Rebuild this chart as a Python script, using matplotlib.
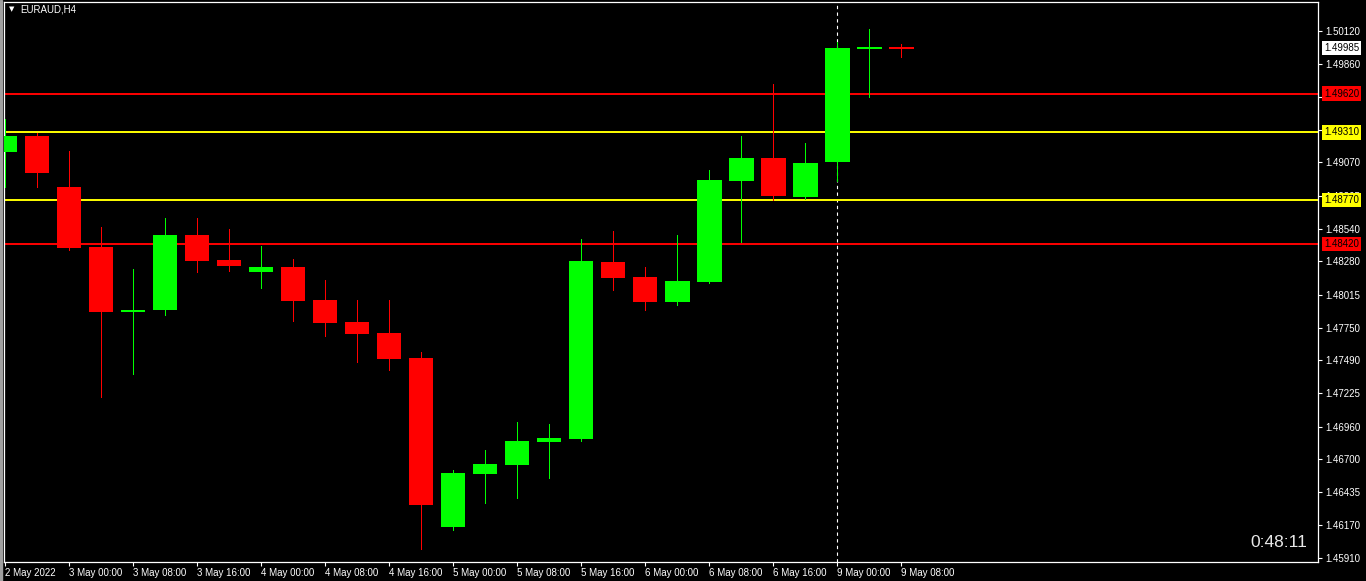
import matplotlib
matplotlib.use("Agg")
import matplotlib.pyplot as plt
from matplotlib.patches import Rectangle

plt.rcParams['font.family'] = ['Liberation Sans', 'DejaVu Sans']

# EURAUD H4 candles, 2 May 16:00 .. 9 May 08:00
opens = [1.49156, 1.49281, 1.48874, 1.48394, 1.47883, 1.47891, 1.48490, 1.48291,
         1.48195, 1.48235, 1.47971, 1.47795, 1.47707, 1.47508, 1.46160, 1.46581,
         1.46653, 1.46837, 1.46861, 1.48275, 1.48155, 1.47957, 1.48118, 1.48924,
         1.49105, 1.48796, 1.49076, 1.49984, 1.49990]
highs = [1.49417, 1.49303, 1.49161, 1.48554, 1.48219, 1.48626, 1.48626, 1.48538,
         1.48402, 1.48299, 1.48131, 1.47971, 1.47971, 1.47556, 1.46613, 1.46773,
         1.46996, 1.46980, 1.48458, 1.48522, 1.48235, 1.48490, 1.49010, 1.49281,
         1.49697, 1.49225, 1.50032, 1.50136, 1.50016]
lows = [1.48876, 1.48876, 1.48370, 1.47198, 1.47380, 1.47851, 1.48195, 1.48203,
        1.48067, 1.47803, 1.47683, 1.47476, 1.47412, 1.45982, 1.46134, 1.46349,
        1.46389, 1.46549, 1.46845, 1.48053, 1.47893, 1.47933, 1.48110, 1.48437,
        1.48770, 1.48780, 1.48922, 1.49595, 1.49915]
closes = [1.49281, 1.48988, 1.48389, 1.47878, 1.47891, 1.48490, 1.48283, 1.48243,
          1.48235, 1.47963, 1.47787, 1.47699, 1.47500, 1.46333, 1.46589, 1.46661,
          1.46845, 1.46869, 1.48283, 1.48149, 1.47957, 1.48123, 1.48930, 1.49105,
          1.48804, 1.49065, 1.49984, 1.49990, 1.49985]

# time labels every second bar
time_labels = ["2 May 2022", "3 May 00:00", "3 May 08:00", "3 May 16:00", "4 May 00:00",
               "4 May 08:00", "4 May 16:00", "5 May 00:00", "5 May 08:00", "5 May 16:00",
               "6 May 00:00", "6 May 08:00", "6 May 16:00", "9 May 00:00", "9 May 08:00"]

price_ticks = [1.50120, 1.49860, 1.49595, 1.49330, 1.49070, 1.48805, 1.48540, 1.48280,
               1.48015, 1.47750, 1.47490, 1.47225, 1.46960, 1.46700, 1.46435, 1.46170,
               1.45910]

red_levels = [1.49620, 1.48420]
yellow_levels = [1.49310, 1.48770]
current_price = 1.49985
separator_bar = 26
symbol = "EURAUD,H4"
timer = "0:48:11"

GREEN = '#00ff00'
RED = '#ff0000'
YELLOW = '#ffff00'

W, H = 1366, 581
fig = plt.figure(figsize=(W / 100, H / 100), dpi=100, facecolor='black')
ax = fig.add_axes([4 / W, (H - 562) / H, (1318 - 4) / W, (562 - 2) / H])
ax.set_facecolor('black')
fig.patches.append(Rectangle((0, 0), 2 / W, 1, transform=fig.transFigure,
                             color='#a0a0a0', zorder=0))

# candles
min_body = 0.00016
for i in range(len(opens)):
    o, h, l, c = opens[i], highs[i], lows[i], closes[i]
    col = GREEN if c >= o else RED
    ax.vlines(i, l, h, color=col, linewidth=0.6, antialiased=False, zorder=3)
    bottom = min(o, c)
    height = max(abs(c - o), min_body)
    if abs(c - o) < min_body:
        bottom = (o + c) / 2 - min_body / 2
    ax.bar(i, height, bottom=bottom, width=0.78, color=col, linewidth=0,
           antialiased=False, zorder=4)

# horizontal levels
for lv in red_levels:
    ax.axhline(lv, color=RED, linewidth=1.4, zorder=2)
for lv in yellow_levels:
    ax.axhline(lv, color=YELLOW, linewidth=1.4, zorder=2)

# period separator
ax.axvline(separator_bar, color='white', linewidth=0.8, linestyle=(0, (3, 3)), zorder=1)

ax.set_xlim(-0.03125, 41.03)
ax.set_ylim(1.45878, 1.50352)

ax.set_xticks(range(0, 2 * len(time_labels), 2))
ax.set_xticklabels(time_labels)
ax.set_yticks(price_ticks)
ax.set_yticklabels([f"{p:.5f}" for p in price_ticks])
ax.yaxis.tick_right()
ax.tick_params(axis='both', colors='white', labelsize=7, length=3, width=0.8, direction='out')
ax.tick_params(axis='y', pad=2)
ax.tick_params(axis='x', pad=1.5)
for lab in ax.get_xticklabels():
    lab.set_horizontalalignment('left')
for sp in ax.spines.values():
    sp.set_color('white')
    sp.set_linewidth(0.9)

# price labels on the right scale
def price_box(value, face, text_color='black'):
    ax.annotate(f"{value:.5f}", xy=(1.0, value), xycoords=('axes fraction', 'data'),
                xytext=(4.3, 0), textcoords='offset points', va='center', ha='left',
                fontsize=7, color=text_color, annotation_clip=False, zorder=10,
                bbox=dict(boxstyle='square,pad=0.22', facecolor=face, edgecolor='none'))

for lv in red_levels:
    price_box(lv, RED)
for lv in yellow_levels:
    price_box(lv, YELLOW)
price_box(current_price, 'white')

# symbol title
fig.text(9 / W, 1 - 9 / H, "\u25bc", color='white', fontsize=5, va='center',
         family='DejaVu Sans')
fig.text(20 / W, 1 - 9 / H, symbol, color='white', fontsize=7, va='center')

# countdown timer
ax.text(0.9916, 0.034, timer, transform=ax.transAxes, ha='right', va='center',
        color='#e8e8e8', fontsize=12.5, zorder=10)

fig.savefig('out.png', dpi=100, facecolor='black')
